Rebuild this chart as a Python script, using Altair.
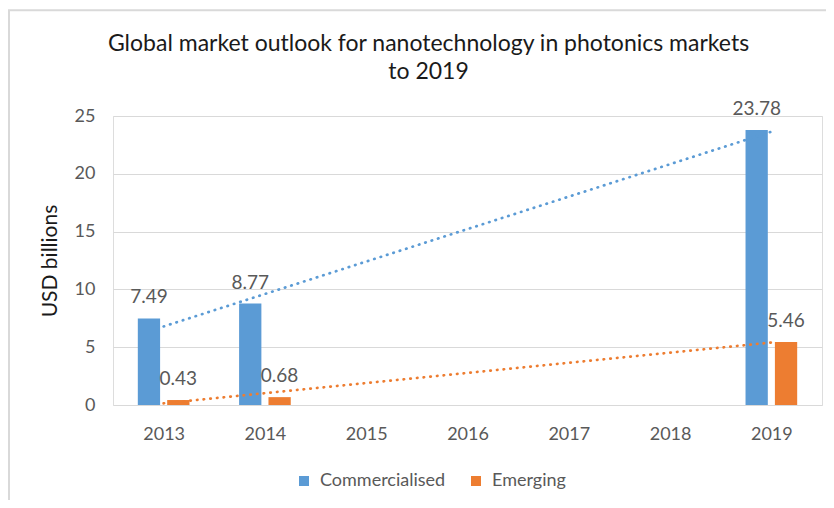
import altair as alt
import pandas as pd

years = [2013, 2014, 2015, 2016, 2017, 2018, 2019]
commercialised = [7.49, 8.77, None, None, None, None, 23.78]
emerging = [0.43, 0.68, None, None, None, None, 5.46]
series_names = ["Commercialised", "Emerging"]
colors = ["#5B9BD5", "#ED7D31"]
y_ticks = [0, 5, 10, 15, 20, 25]
title_lines = ["Global market outlook for nanotechnology in photonics markets", "to 2019"]
y_title = "USD billions"

rows = []
for i, yr in enumerate(years):
    for s, vals in zip(series_names, [commercialised, emerging]):
        v = vals[i]
        if v is not None:
            rows.append({"idx": i + 1, "year": yr, "series": s, "value": v, "label": f"{v:.2f}"})
df = pd.DataFrame(rows)

FONT = "Lato"
GREY = "#595959"

label_expr = "[" + ",".join(f"'{y}'" for y in years) + "][datum.value - 1]"
xscale = alt.Scale(domain=[0.5, len(years) + 0.5], nice=False, zero=False)
yscale = alt.Scale(domain=[0, 25], nice=False)
x_axis = alt.Axis(values=list(range(1, len(years) + 1)), labelExpr=label_expr, grid=False,
                  ticks=False, tickSize=0, domain=False, labelPadding=20, labelFontSize=18,
                  labelColor=GREY, labelFont=FONT, title=None)
y_axis = alt.Axis(values=y_ticks, grid=True, gridColor="#d9d9d9", gridWidth=1, ticks=False,
                  tickSize=0, domain=False, labelPadding=18, labelFontSize=18, labelColor=GREY,
                  labelFont=FONT, title=y_title, titleFontSize=21, titleFont=FONT,
                  titleColor="#1a1a1a", titleFontWeight="normal", titleX=-63, titleY=144.5,
                  titleAngle=-90, titleAlign="center", titleBaseline="middle")

offset_expr = "datum.idx + (datum.series == 'Commercialised' ? -0.255 : 0.035)"
base = alt.Chart(df)

bars = base.transform_calculate(
    x0=offset_expr, x1="datum.x0 + 0.22"
).mark_bar().encode(
    x=alt.X("x0:Q", scale=xscale, axis=x_axis, title=None),
    x2="x1:Q",
    y=alt.Y("value:Q", scale=yscale, axis=y_axis),
    y2=alt.datum(0),
    color=alt.Color("series:N", scale=alt.Scale(domain=series_names, range=colors),
                    legend=alt.Legend(title=None, orient="none", legendX=182, legendY=356,
                                      direction="horizontal", symbolType="square",
                                      symbolSize=100, symbolStrokeWidth=0, labelFontSize=18,
                                      labelColor=GREY, labelFont=FONT, columnPadding=21,
                                      labelOffset=7, padding=0)),
)

trend = base.transform_regression(
    "idx", "value", groupby=["series"], method="linear"
).mark_line(strokeDash=[0.5, 6.2], strokeCap="round", strokeWidth=2.7).encode(
    x=alt.X("idx:Q", scale=xscale, axis=x_axis, title=None),
    y=alt.Y("value:Q", scale=yscale, axis=y_axis),
    stroke=alt.Stroke("series:N", scale=alt.Scale(domain=series_names, range=colors), legend=None),
    detail="series:N",
)

labels = base.transform_calculate(
    xm=offset_expr + " + 0.11"
).mark_text(dy=-21, baseline="middle", align="center", fontSize=19, color=GREY, font=FONT).encode(
    x=alt.X("xm:Q", scale=xscale, axis=x_axis, title=None),
    y=alt.Y("value:Q", scale=yscale, axis=y_axis),
    text="label:N",
)

border_data = alt.Data(values=[{}])
left_border = alt.Chart(border_data).mark_rule(color="#d9d9d9", strokeWidth=2).encode(
    x=alt.value(-104), y=alt.value(-106), y2=alt.value(384))
top_border = alt.Chart(border_data).mark_rule(color="#d9d9d9", strokeWidth=2).encode(
    y=alt.value(-105.8), x=alt.value(-105), x2=alt.value(713))

chart = alt.layer(left_border, top_border, bars, trend, labels).properties(
    width=709, height=289,
    autosize=alt.AutoSizeParams(type="none"),
    padding={"left": 105, "top": 108, "right": 4, "bottom": 95},
    title=alt.TitleParams(text=title_lines, fontSize=23, font=FONT, fontWeight="normal",
                          color="#1a1a1a", anchor="middle", frame="group", dx=-39,
                          offset=-75, lineHeight=28),
).configure_view(stroke=None).configure(font=FONT)

chart.save("out.html", embed_options={"renderer": "svg", "actions": False})
